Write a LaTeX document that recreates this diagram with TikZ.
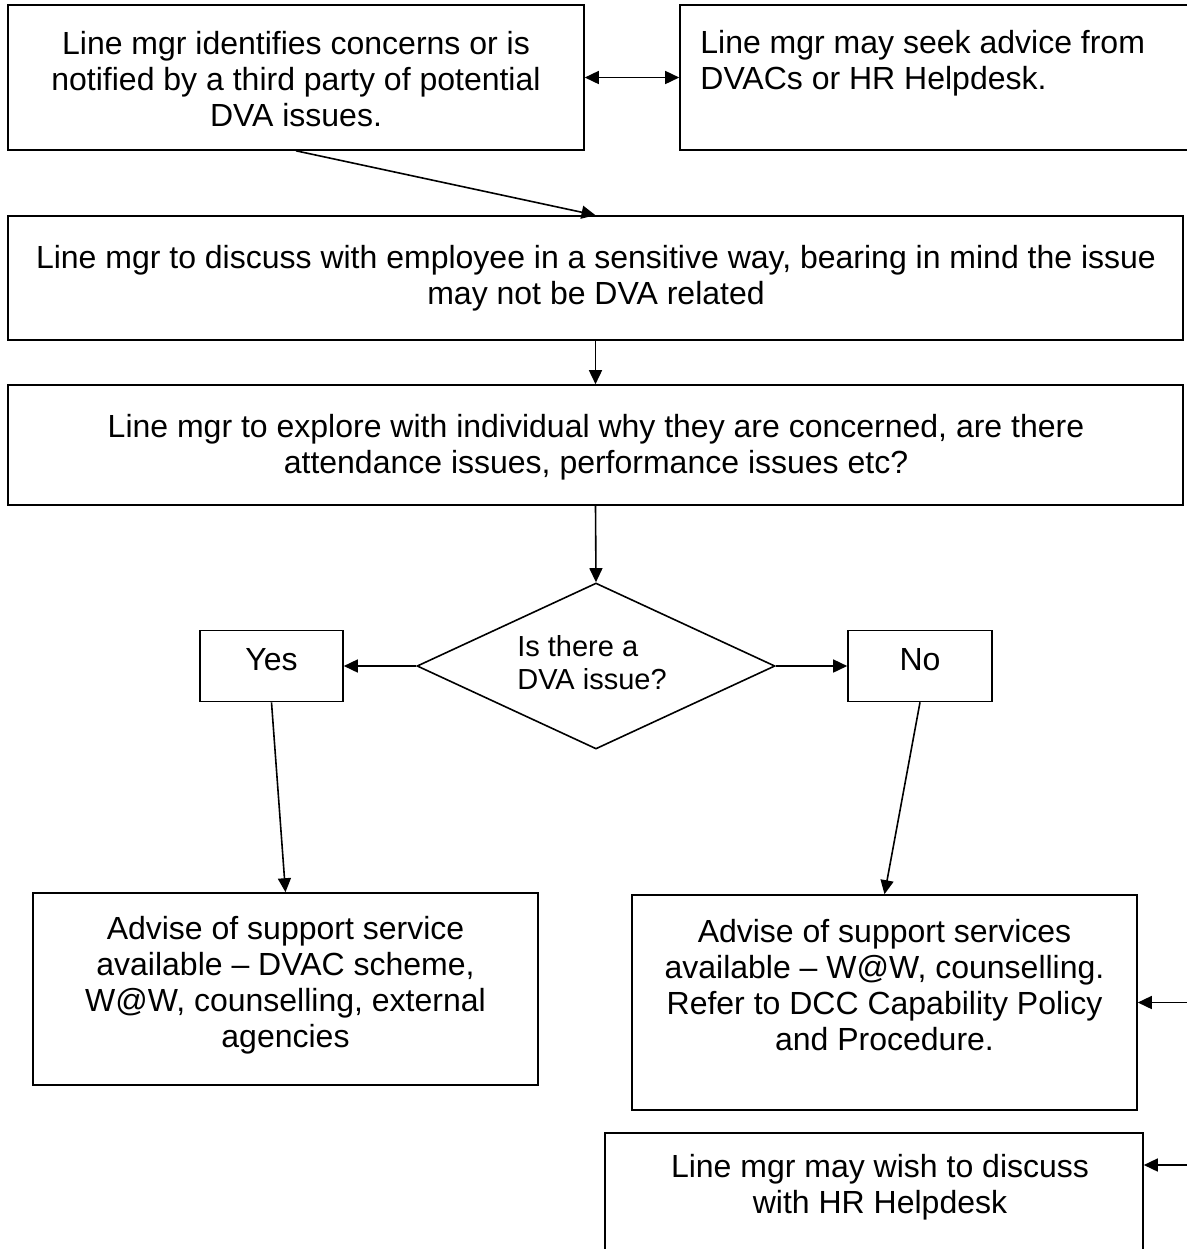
\documentclass[tikz,border=0pt]{standalone}
\usepackage{fontspec}
\setmainfont{Liberation Sans}
\usetikzlibrary{calc,arrows.meta,shapes.geometric}

\tikzset{
	box/.style={draw, line width=0.8pt, inner sep=0pt},
	txt/.style={align=center, inner sep=0pt, font=\fontsize{16}{18}\selectfont},
	link/.style={line width=0.8pt, >={Triangle[length=7pt,width=6.5pt]}}
}

\begin{document}
\begin{tikzpicture}[x=1pt,y=-1pt]
				\useasboundingbox (0,0) rectangle (593.5,624.5);
				\clip (0,0) rectangle (593.5,624.5);
				
				% top row
				\node[box, minimum width=288pt, minimum height=72.5pt] (concern) at (148,38.75) {};
				\node[txt] (concernT) at (148,39.5) {Line mgr identifies concerns or is\\notified by a third party of potential\\DVA issues.};
				\node[box, minimum width=258pt, minimum height=72.5pt] (advice) at (469,38.75) {};
				\node[txt, align=left, anchor=west] (adviceT) at (350,31.5) {Line mgr may seek advice from\\DVACs or HR Helpdesk.};
				
				% discuss / explore
				\node[box, minimum width=587.5pt, minimum height=62pt] (discuss) at (297.75,139) {};
				\node[txt] (discussT) at (298,139.25) {Line mgr to discuss with employee in a sensitive way, bearing in mind the issue\\may not be DVA related};
				\node[box, minimum width=587.5pt, minimum height=60pt] (explore) at (297.75,222.5) {};
				\node[txt] (exploreT) at (298,223.5) {Line mgr to explore with individual why they are concerned, are there\\attendance issues, performance issues etc?};
				
				% decision
				\node[box, diamond, aspect=2.15, minimum width=179pt, minimum height=83pt] (dva) at (298,333) {};
				\node[txt, align=left, font=\fontsize{14.5}{16.5}\selectfont] (dvaT) at (296,331.5) {Is there a\\DVA issue?};
				\node[box, minimum width=71.5pt, minimum height=35.5pt] (yes) at (135.75,333) {};
				\node[txt] (yesT) at (135.75,330) {Yes};
				\node[box, minimum width=72pt, minimum height=35.5pt] (no) at (460,333) {};
				\node[txt] (noT) at (460,330) {No};
				
				% outcomes
				\node[box, minimum width=252.5pt, minimum height=96pt] (advyes) at (142.75,494.5) {};
				\node[txt] (advyesT) at (142.75,492.5) {Advise of support service\\available -- DVAC scheme,\\W@W, counselling, external\\agencies};
				\node[box, minimum width=252.5pt, minimum height=107.5pt] (advno) at (442.25,501.25) {};
				\node[txt] (advnoT) at (442.25,492.5) {Advise of support services\\available -- W@W, counselling.\\Refer to DCC Capability Policy\\and Procedure.};
				\node[box, minimum width=269pt, minimum height=63.5pt] (hrdesk) at (437,598.25) {};
				\node[txt] (hrdeskT) at (440,593.5) {Line mgr may wish to discuss\\with HR Helpdesk};
				
				\coordinate (inF) at (593.5,501.25);
				\coordinate (inG) at (593.5,582.5);
				
				% connectors
				\draw[link, <->] (concern.east) -- (advice.west);
				\draw[link, ->] (concern.south) -- (discuss.north);
				\draw[link, ->] (discuss.south) -- (explore.north);
				\draw[link, ->] (explore.south) -- (dva.north);
				\draw[link, ->] (dva.west) -- (yes.east);
				\draw[link, ->] (dva.east) -- (no.west);
				\draw[link, ->] (yes.south) -- (advyes.north);
				\draw[link, ->] (no.south) -- (advno.north);
				\draw[link, ->] (inF) -- (advno.east);
				\draw[link, ->] (inG) -- (inG -| hrdesk.east);
			\end{tikzpicture}
\end{document}
